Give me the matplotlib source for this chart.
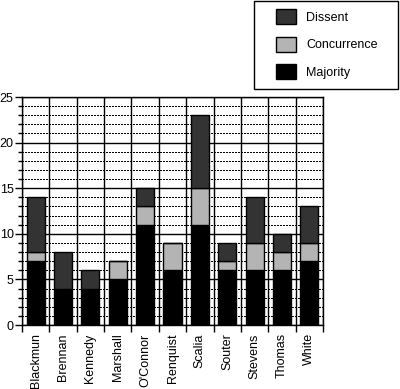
import numpy as np
import matplotlib
matplotlib.use('Agg')
import matplotlib.pyplot as plt
import matplotlib.patches as mpatches
from matplotlib.ticker import MultipleLocator

# ==================== data ====================
justices = ['Blackmun', 'Brennan', 'Kennedy', 'Marshall', "O'Connor", 'Renquist',
            'Scalia', 'Souter', 'Stevens', 'Thomas', 'White']
majority = [7, 4, 4, 5, 11, 6, 11, 6, 6, 6, 7]
concurrence = [1, 0, 0, 2, 2, 3, 4, 1, 3, 2, 2]
dissent = [6, 4, 2, 0, 2, 0, 8, 2, 5, 2, 4]

colors = {'Majority': '#000000', 'Concurrence': '#b4b4b4', 'Dissent': '#333333'}

plt.rcParams['font.family'] = ['Liberation Sans', 'DejaVu Sans']

W, H = 400, 389
fig = plt.figure(figsize=(W / 100, H / 100), dpi=100)
ax = fig.add_axes([22 / W, 64 / H, 301 / W, 228 / H])

x = np.arange(len(justices))
maj = np.array(majority)
con = np.array(concurrence)
dis = np.array(dissent)
w = 0.66

# stacked bars
ax.bar(x, maj, w, color=colors['Majority'], edgecolor='black', linewidth=1, zorder=3)
ax.bar(x, con, w, bottom=maj, color=colors['Concurrence'], edgecolor='black', linewidth=1, zorder=3)
ax.bar(x, dis, w, bottom=maj + con, color=colors['Dissent'], edgecolor='black', linewidth=1, zorder=3)

ax.set_xlim(-0.5, len(justices) - 0.5)
ax.set_ylim(0, 25)

# y axis: major every 5 (solid), minor every 1 (dotted)
ax.yaxis.set_major_locator(MultipleLocator(5))
ax.yaxis.set_minor_locator(MultipleLocator(1))
ax.grid(True, which='major', axis='y', color='black', linewidth=1, linestyle='-', zorder=1)
ax.grid(True, which='minor', axis='y', color='black', linewidth=0.75, linestyle=(0, (1, 1)),
        antialiased=False, zorder=1)

# x axis: labels at centers, ticks + vertical lines at boundaries
ax.set_xticks(x)
ax.set_xticklabels(justices, rotation=90, fontsize=9)
ax.set_xticks(np.arange(-0.5, len(justices)), minor=True)
ax.grid(True, which='minor', axis='x', color='black', linewidth=1, linestyle='-', zorder=1)
ax.tick_params(axis='x', which='major', length=0, pad=6)
ax.tick_params(axis='x', which='minor', length=5, width=1, direction='out')
ax.tick_params(axis='y', which='major', length=5, width=1, labelsize=9, pad=1)
ax.tick_params(axis='y', which='minor', length=3, width=1)
ax.set_axisbelow(True)

for s in ax.spines.values():
    s.set_linewidth(1)
    s.set_color('black')

# legend box drawn by hand (padding differs left/right vs top/bottom)
fig.patches.append(mpatches.Rectangle((253.5 / W, 1 - 89 / H), 144.5 / W, 88.5 / H,
                                      transform=fig.transFigure, facecolor='white',
                                      edgecolor='black', linewidth=1, zorder=5))
handles = [mpatches.Patch(facecolor=colors[k], edgecolor='black', label=k)
           for k in ['Dissent', 'Concurrence', 'Majority']]
leg = fig.legend(handles=handles, loc='upper left', bbox_to_anchor=(276 / W, 1 - 9 / H),
                 fontsize=9, frameon=False, handlelength=1.6, handleheight=1.5,
                 labelspacing=0.98, handletextpad=0.8, borderpad=0, borderaxespad=0)
leg.set_zorder(6)

fig.savefig('out.png', dpi=100)
